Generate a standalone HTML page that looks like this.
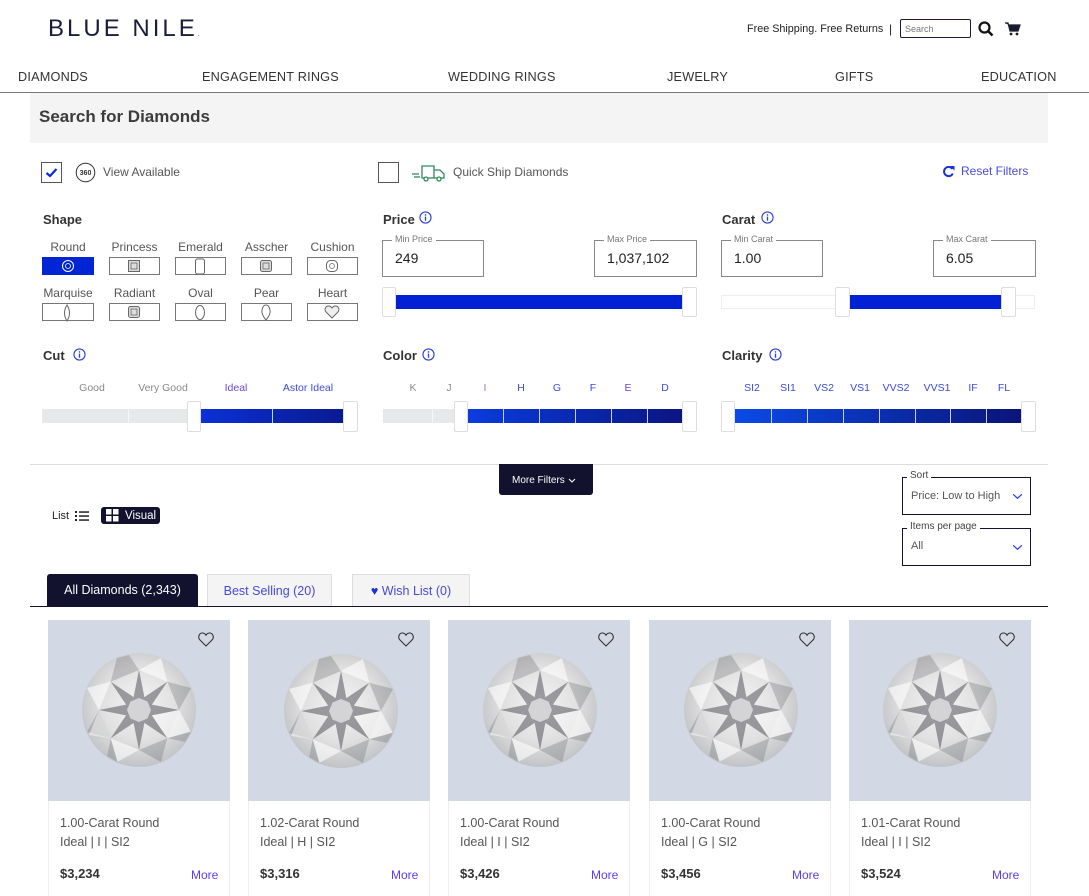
<!DOCTYPE html>
<html><head><meta charset="utf-8"><style>
html,body{margin:0;width:1089px;height:896px;overflow:hidden}
body{background:#fff;font-family:"Liberation Sans",sans-serif;position:relative}
.a{position:absolute;white-space:nowrap}
.nav{top:69px;line-height:16px;font-size:12.7px;color:#333;letter-spacing:.2px}
.lbl{font-size:13px;font-weight:bold;color:#333;line-height:16px}
.shl{font-size:12px;color:#555;line-height:14px;text-align:center}
.shb{border:1px solid #777;height:16px;box-sizing:content-box;background:#fff}
.inp{border:1px solid #888;width:100px;height:35px}
.leg{font-size:9px;color:#777;background:#fff;padding:0 3px;line-height:10px}
.val{font-size:14px;color:#222;line-height:16px}
.hd{width:13px;height:30px;border:1px solid #ddd;background:#fff;border-radius:2px;box-sizing:border-box}
.tk{font-size:10.5px;line-height:12px;text-align:center;width:60px;margin-left:-30px}
.dv{top:409px;width:1px;height:14px;background:#c9cde8}
.card{width:182px;height:276px;top:620px;overflow:hidden}
.img{position:absolute;left:0;top:0;width:182px;height:181px;background:#d2d9e5}
.bot{position:absolute;left:0;top:181px;width:180px;height:120px;border:1px solid #eee;border-top:none}
.t1{font-size:12.5px;color:#555;line-height:14px}
.pr{font-size:13px;font-weight:bold;color:#333;line-height:14px}
.more{font-size:12px;color:#5a3cf0;line-height:14px}
</style></head><body>

<svg width="0" height="0" style="position:absolute">
<defs>
<radialGradient id="dg" cx="50%" cy="45%" r="55%">
<stop offset="0" stop-color="#f4f4f4"/><stop offset=".6" stop-color="#e0e0e0"/><stop offset="1" stop-color="#c2c3c6"/>
</radialGradient>
<symbol id="dia" viewBox="-58 -58 116 116">
<circle r="57" fill="url(#dg)"/>
<g fill="#fff" opacity=".6">
<polygon points="0,-40 22,-52 28.3,-28.3"/>
<polygon points="0,-40 22,-52 28.3,-28.3" transform="rotate(90)"/>
<polygon points="0,-40 22,-52 28.3,-28.3" transform="rotate(180)"/>
<polygon points="0,-40 22,-52 28.3,-28.3" transform="rotate(270)"/>
</g>
<g fill="#6a6b70" opacity=".3">
<polygon points="28.3,-28.3 40,0 52,-22"/>
<polygon points="28.3,-28.3 40,0 52,-22" transform="rotate(90)"/>
<polygon points="28.3,-28.3 40,0 52,-22" transform="rotate(180)"/>
<polygon points="28.3,-28.3 40,0 52,-22" transform="rotate(270)"/>
<polygon points="0,-40 -10,-55 -22,-52"/>
<polygon points="0,-40 -10,-55 -22,-52" transform="rotate(135)"/>
<polygon points="0,-40 -10,-55 -22,-52" transform="rotate(225)"/>
</g>
<polygon fill="#55565c" opacity=".55" points="0,-40 5.4,-12.9 28.3,-28.3 12.9,-5.4 40,0 12.9,5.4 28.3,28.3 5.4,12.9 0,40 -5.4,12.9 -28.3,28.3 -12.9,5.4 -40,0 -12.9,-5.4 -28.3,-28.3 -5.4,-12.9"/>
<polygon fill="#d4d4d6" points="0,-12 8.5,-8.5 12,0 8.5,8.5 0,12 -8.5,8.5 -12,0 -8.5,-8.5"/>
<g fill="#fff" opacity=".45">
<polygon points="-40,0 -28.3,28.3 -50,25"/>
<polygon points="12.9,5.4 40,0 28.3,28.3"/>
</g>
</symbol>
<symbol id="heart" viewBox="0 0 16 15">
<path d="M8 14 L2 8 C-0.5 5.5 1 1 4.5 1 C6.3 1 7.3 2 8 3.2 C8.7 2 9.7 1 11.5 1 C15 1 16.5 5.5 14 8 Z" fill="none" stroke="#333" stroke-width="1.1"/>
</symbol>
<symbol id="info" viewBox="0 0 14 14">
<circle cx="7" cy="7" r="6" fill="none" stroke="#2b3fd6" stroke-width="1.2"/>
<circle cx="7" cy="4.2" r=".9" fill="#2b3fd6"/>
<rect x="6.3" y="6" width="1.4" height="4.5" fill="#2b3fd6"/>
</symbol>
<symbol id="chev" viewBox="0 0 12 8"><path d="M1 1.5 L6 6 L11 1.5" fill="none" stroke="#2b3fd6" stroke-width="1.4"/></symbol>
</defs>
</svg>

<!-- Header -->
<div class="a" style="left:48px;top:15px;font-size:24px;line-height:28px;letter-spacing:3px;color:#1c1d3b">BLUE NILE<span style="font-size:6px;letter-spacing:0">.</span></div>
<div class="a" style="left:747px;top:22px;font-size:10.8px;line-height:14px;color:#222">Free Shipping. Free Returns</div>
<div class="a" style="left:889px;top:22px;font-size:12px;line-height:14px;color:#222">|</div>
<div class="a" style="left:900px;top:19px;width:71px;height:19px;border:1px solid #1a1a3a;border-radius:2px;box-sizing:border-box"></div>
<div class="a" style="left:905px;top:24px;font-size:9px;line-height:10px;color:#777">Search</div>
<svg class="a" style="left:978px;top:21px" width="16" height="16" viewBox="0 0 16 16"><circle cx="6.5" cy="6.5" r="5" fill="none" stroke="#111" stroke-width="2.2"/><line x1="10" y1="10" x2="14.5" y2="14.5" stroke="#111" stroke-width="2.5"/></svg>
<svg class="a" style="left:1005px;top:22px" width="16" height="14" viewBox="0 0 16 14"><path d="M0 1 H3 L5 9 H13 L15 3 H4" fill="#1a1a2e" stroke="#1a1a2e" stroke-width="1.2"/><circle cx="6" cy="12" r="1.4" fill="#1a1a2e"/><circle cx="12" cy="12" r="1.4" fill="#1a1a2e"/></svg>

<div class="a nav" style="left:18px">DIAMONDS</div>
<div class="a nav" style="left:202px">ENGAGEMENT RINGS</div>
<div class="a nav" style="left:448px">WEDDING RINGS</div>
<div class="a nav" style="left:667px">JEWELRY</div>
<div class="a nav" style="left:835px">GIFTS</div>
<div class="a nav" style="left:981px">EDUCATION</div>
<div class="a" style="left:0;top:92px;width:1089px;height:1px;background:#777"></div>

<div class="a" style="left:30px;top:93px;width:1018px;height:50px;background:#f4f4f4"></div>
<div class="a" style="left:39px;top:107px;font-size:17px;line-height:20px;font-weight:bold;color:#3c3c3c">Search for Diamonds</div>

<!-- checkboxes -->
<div class="a" style="left:41px;top:162px;width:21px;height:21px;border:1px solid #555;box-sizing:border-box"></div>
<svg class="a" style="left:45px;top:167px" width="13" height="11" viewBox="0 0 13 11"><path d="M1.5 6 L5 9 L11.5 2" fill="none" stroke="#0a2ad6" stroke-width="2.2"/></svg>
<svg class="a" style="left:75px;top:162px" width="21" height="21" viewBox="0 0 21 21"><circle cx="10.5" cy="10.5" r="9.3" fill="none" stroke="#333" stroke-width="1"/><text x="10.5" y="13" font-size="7" font-weight="bold" text-anchor="middle" fill="#333" font-family="Liberation Sans">360</text></svg>
<div class="a" style="left:103px;top:165px;font-size:12px;line-height:14px;color:#555">View Available</div>

<div class="a" style="left:378px;top:162px;width:21px;height:21px;border:1px solid #555;box-sizing:border-box"></div>
<svg class="a" style="left:411px;top:163px" width="35" height="20" viewBox="0 0 35 20"><g fill="none" stroke="#2e8a5a" stroke-width="1.3"><line x1="1" y1="11" x2="8" y2="11"/><line x1="3" y1="14" x2="9" y2="14"/><path d="M11 3 H23 V15 H11 Z"/><path d="M23 7 H29 L33 11 V15 H23"/><circle cx="15" cy="16" r="2" fill="#fff"/><circle cx="28" cy="16" r="2" fill="#fff"/></g></svg>
<div class="a" style="left:453px;top:165px;font-size:12px;line-height:14px;color:#555">Quick Ship Diamonds</div>

<svg class="a" style="left:942px;top:165px" width="13" height="13" viewBox="0 0 13 13"><path d="M10.5 4 A4.6 4.6 0 1 0 10.8 8.5" fill="none" stroke="#1a30d8" stroke-width="2"/><polygon points="8,1 12.5,1 12.5,5.5" fill="#1a30d8"/></svg>
<div class="a" style="left:961px;top:164px;font-size:12px;line-height:14px;color:#4a4ad8">Reset Filters</div>

<!-- Shape -->
<div class="a lbl" style="left:43px;top:212px">Shape</div>
<div class="a shl" style="left:42px;top:240px;width:52px">Round</div>
<div class="a shl" style="left:109px;top:240px;width:51px">Princess</div>
<div class="a shl" style="left:175px;top:240px;width:51px">Emerald</div>
<div class="a shl" style="left:241px;top:240px;width:51px">Asscher</div>
<div class="a shl" style="left:307px;top:240px;width:51px">Cushion</div>
<div class="a shb" style="left:42px;top:257px;width:50px;background:#0025d4;border-color:#0025d4"></div>
<div class="a shb" style="left:109px;top:257px;width:49px"></div>
<div class="a shb" style="left:175px;top:257px;width:49px"></div>
<div class="a shb" style="left:241px;top:257px;width:49px"></div>
<div class="a shb" style="left:307px;top:257px;width:49px"></div>
<svg class="a" style="left:61px;top:259px" width="14" height="14" viewBox="0 0 14 14"><circle cx="7" cy="7" r="5.5" fill="none" stroke="#fff" stroke-width="1"/><circle cx="7" cy="7" r="2.5" fill="none" stroke="#fff" stroke-width=".8"/></svg>
<svg class="a" style="left:127px;top:259px" width="14" height="14" viewBox="0 0 14 14"><rect x="1.5" y="1.5" width="11" height="11" fill="#ddd" stroke="#666"/><rect x="4" y="4" width="6" height="6" fill="none" stroke="#666" stroke-width=".8"/></svg>
<svg class="a" style="left:194px;top:258px" width="12" height="17" viewBox="0 0 12 17"><rect x="1.5" y="1" width="9" height="15" rx="2" fill="none" stroke="#666"/></svg>
<svg class="a" style="left:259px;top:259px" width="14" height="14" viewBox="0 0 14 14"><rect x="1.5" y="1.5" width="11" height="11" rx="2" fill="#ddd" stroke="#666"/><rect x="4" y="4" width="6" height="6" fill="none" stroke="#666" stroke-width=".8"/></svg>
<svg class="a" style="left:325px;top:259px" width="14" height="14" viewBox="0 0 14 14"><rect x="1.5" y="1.5" width="11" height="11" rx="4" fill="none" stroke="#666"/><circle cx="7" cy="7" r="2.5" fill="none" stroke="#666" stroke-width=".7"/></svg>

<div class="a shl" style="left:42px;top:286px;width:52px">Marquise</div>
<div class="a shl" style="left:109px;top:286px;width:51px">Radiant</div>
<div class="a shl" style="left:175px;top:286px;width:51px">Oval</div>
<div class="a shl" style="left:241px;top:286px;width:51px">Pear</div>
<div class="a shl" style="left:307px;top:286px;width:51px">Heart</div>
<div class="a shb" style="left:42px;top:303px;width:50px"></div>
<div class="a shb" style="left:109px;top:303px;width:49px"></div>
<div class="a shb" style="left:175px;top:303px;width:49px"></div>
<div class="a shb" style="left:241px;top:303px;width:49px"></div>
<div class="a shb" style="left:307px;top:303px;width:49px"></div>
<svg class="a" style="left:62px;top:304px" width="10" height="18" viewBox="0 0 10 18"><path d="M5 1 Q10 9 5 17 Q0 9 5 1 Z" fill="none" stroke="#666"/></svg>
<svg class="a" style="left:127px;top:305px" width="14" height="14" viewBox="0 0 14 14"><rect x="1.5" y="1.5" width="11" height="11" rx="2" fill="#ddd" stroke="#666"/><rect x="4" y="4" width="6" height="6" fill="none" stroke="#666" stroke-width=".8"/></svg>
<svg class="a" style="left:194px;top:304px" width="12" height="17" viewBox="0 0 12 17"><ellipse cx="6" cy="8.5" rx="4.5" ry="7" fill="none" stroke="#666"/></svg>
<svg class="a" style="left:260px;top:304px" width="12" height="17" viewBox="0 0 12 17"><path d="M6 16 Q1 10 2 6 Q3 1 6 1 Q9 1 10 6 Q11 10 6 16 Z" fill="none" stroke="#666"/></svg>
<svg class="a" style="left:324px;top:305px" width="16" height="14" viewBox="0 0 16 14"><path d="M8 13 L2 7 C0 4.5 1.5 1 4.5 1 C6.3 1 7.3 2 8 3 C8.7 2 9.7 1 11.5 1 C14.5 1 16 4.5 14 7 Z" fill="#eee" stroke="#666"/></svg>

<!-- Price -->
<div class="a lbl" style="left:383px;top:212px">Price</div>
<svg class="a" style="left:419px;top:211px" width="13" height="13"><use href="#info"/></svg>
<div class="a inp" style="left:382px;top:240px"></div>
<div class="a leg" style="left:392px;top:234px">Min Price</div>
<div class="a val" style="left:395px;top:250px">249</div>
<div class="a inp" style="left:594px;top:240px;width:101px"></div>
<div class="a leg" style="left:604px;top:234px">Max Price</div>
<div class="a val" style="left:607px;top:250px">1,037,102</div>
<div class="a" style="left:396px;top:295px;width:287px;height:14px;background:#0022d4"></div>
<div class="a hd" style="left:382px;top:287px;width:14px"></div>
<div class="a hd" style="left:682px;top:287px;width:15px"></div>

<!-- Carat -->
<div class="a lbl" style="left:722px;top:212px">Carat</div>
<svg class="a" style="left:761px;top:211px" width="13" height="13"><use href="#info"/></svg>
<div class="a inp" style="left:721px;top:240px"></div>
<div class="a leg" style="left:731px;top:234px">Min Carat</div>
<div class="a val" style="left:734px;top:250px">1.00</div>
<div class="a inp" style="left:933px;top:240px;width:101px"></div>
<div class="a leg" style="left:943px;top:234px">Max Carat</div>
<div class="a val" style="left:946px;top:250px">6.05</div>
<div class="a" style="left:721px;top:295px;width:314px;height:14px;border:1px solid #eee;box-sizing:border-box"></div>
<div class="a" style="left:850px;top:295px;width:152px;height:14px;background:#0022d4"></div>
<div class="a hd" style="left:835px;top:287px;width:15px"></div>
<div class="a hd" style="left:1001px;top:287px;width:15px"></div>

<!-- Cut -->
<div class="a lbl" style="left:43px;top:348px">Cut</div>
<svg class="a" style="left:73px;top:348px" width="13" height="13"><use href="#info"/></svg>
<div class="a tk" style="left:92px;top:382px;color:#888">Good</div>
<div class="a tk" style="left:163px;top:382px;color:#888">Very Good</div>
<div class="a tk" style="left:236px;top:382px;color:#6a4ad8">Ideal</div>
<div class="a tk" style="left:308px;top:382px;color:#3c4ad8">Astor Ideal</div>
<div class="a" style="left:42px;top:409px;width:146px;height:14px;background:#e7e8e9"></div>
<div class="a" style="left:128px;top:409px;width:1px;height:14px;background:#f6f6f6"></div>
<div class="a" style="left:201px;top:409px;width:142px;height:14px;background:linear-gradient(90deg,#0a30d8,#0a1a90)"></div>
<div class="a dv" style="left:272px"></div>
<div class="a hd" style="left:187px;top:401px;width:14px;height:31px"></div>
<div class="a hd" style="left:343px;top:401px;width:15px;height:31px"></div>

<!-- Color -->
<div class="a lbl" style="left:383px;top:348px">Color</div>
<svg class="a" style="left:422px;top:348px" width="13" height="13"><use href="#info"/></svg>
<div class="a tk" style="left:413px;top:382px;color:#888">K</div>
<div class="a tk" style="left:449px;top:382px;color:#888">J</div>
<div class="a tk" style="left:485px;top:382px;color:#a070d0">I</div>
<div class="a tk" style="left:521px;top:382px;color:#3c4ad8">H</div>
<div class="a tk" style="left:557px;top:382px;color:#3c4ad8">G</div>
<div class="a tk" style="left:593px;top:382px;color:#3c4ad8">F</div>
<div class="a tk" style="left:628px;top:382px;color:#6a4ad8">E</div>
<div class="a tk" style="left:665px;top:382px;color:#3c4ad8">D</div>
<div class="a" style="left:383px;top:409px;width:72px;height:14px;background:#e7e8e9"></div>
<div class="a" style="left:432px;top:409px;width:1px;height:14px;background:#f6f6f6"></div>
<div class="a" style="left:468px;top:409px;width:215px;height:14px;background:linear-gradient(90deg,#0a3ce0,#0a1580)"></div>
<div class="a dv" style="left:503px"></div>
<div class="a dv" style="left:539px"></div>
<div class="a dv" style="left:575px"></div>
<div class="a dv" style="left:611px"></div>
<div class="a dv" style="left:647px"></div>
<div class="a hd" style="left:454px;top:401px;width:14px;height:31px"></div>
<div class="a hd" style="left:682px;top:401px;width:15px;height:31px"></div>

<!-- Clarity -->
<div class="a lbl" style="left:722px;top:348px">Clarity</div>
<svg class="a" style="left:769px;top:348px" width="13" height="13"><use href="#info"/></svg>
<div class="a tk" style="left:752px;top:382px;color:#3c4ad8">SI2</div>
<div class="a tk" style="left:788px;top:382px;color:#3c4ad8">SI1</div>
<div class="a tk" style="left:824px;top:382px;color:#3c4ad8">VS2</div>
<div class="a tk" style="left:860px;top:382px;color:#3c4ad8">VS1</div>
<div class="a tk" style="left:896px;top:382px;color:#3c4ad8">VVS2</div>
<div class="a tk" style="left:937px;top:382px;color:#3c4ad8">VVS1</div>
<div class="a tk" style="left:973px;top:382px;color:#3c4ad8">IF</div>
<div class="a tk" style="left:1004px;top:382px;color:#3c4ad8">FL</div>
<div class="a" style="left:735px;top:409px;width:287px;height:14px;background:linear-gradient(90deg,#0a4ae8,#0a1478)"></div>
<div class="a dv" style="left:771px"></div>
<div class="a dv" style="left:807px"></div>
<div class="a dv" style="left:843px"></div>
<div class="a dv" style="left:879px"></div>
<div class="a dv" style="left:915px"></div>
<div class="a dv" style="left:950px"></div>
<div class="a dv" style="left:986px"></div>
<div class="a hd" style="left:721px;top:401px;width:14px;height:31px"></div>
<div class="a hd" style="left:1021px;top:401px;width:15px;height:31px"></div>

<!-- divider & more filters -->
<div class="a" style="left:30px;top:464px;width:1018px;height:1px;background:#ddd"></div>
<div class="a" style="left:499px;top:464px;width:94px;height:31px;background:#12112e;border-radius:0 0 3px 3px"></div>
<div class="a" style="left:512px;top:475px;font-size:10px;line-height:12px;color:#fff">More Filters</div>
<svg class="a" style="left:568px;top:478px" width="8" height="6" viewBox="0 0 8 6"><path d="M1 1 L4 4 L7 1" fill="none" stroke="#fff" stroke-width="1"/></svg>

<!-- List / Visual -->
<div class="a" style="left:52px;top:509px;font-size:11px;line-height:14px;color:#222">List</div>
<svg class="a" style="left:74px;top:510px" width="16" height="12" viewBox="0 0 16 12"><g fill="#222"><rect x="1" y="1" width="2" height="2"/><rect x="1" y="5" width="2" height="2"/><rect x="1" y="9" width="2" height="2"/><rect x="5" y="1.3" width="10" height="1.5"/><rect x="5" y="5.3" width="10" height="1.5"/><rect x="5" y="9.3" width="10" height="1.5"/></g></svg>
<div class="a" style="left:101px;top:507px;width:59px;height:17px;background:#12112e;border-radius:3px"></div>
<svg class="a" style="left:106px;top:509px" width="13" height="13" viewBox="0 0 13 13"><g fill="#fff"><rect x="0" y="0" width="5.5" height="5.5"/><rect x="7" y="0" width="5.5" height="5.5"/><rect x="0" y="7" width="5.5" height="5.5"/><rect x="7" y="7" width="5.5" height="5.5"/></g></svg>
<div class="a" style="left:125px;top:509px;font-size:11.5px;line-height:14px;color:#fff">Visual</div>

<!-- Sort -->
<div class="a" style="left:902px;top:477px;width:129px;height:38px;border:1px solid #12112e;box-sizing:border-box"></div>
<div class="a" style="left:907px;top:470px;font-size:10px;line-height:12px;color:#444;background:#fff;padding:0 3px">Sort</div>
<div class="a" style="left:911px;top:489px;font-size:11px;line-height:14px;color:#555">Price: Low to High</div>
<svg class="a" style="left:1012px;top:493px" width="11" height="7"><use href="#chev"/></svg>
<div class="a" style="left:902px;top:528px;width:129px;height:38px;border:1px solid #12112e;box-sizing:border-box"></div>
<div class="a" style="left:907px;top:521px;font-size:10px;line-height:12px;color:#444;background:#fff;padding:0 3px">Items per page</div>
<div class="a" style="left:911px;top:539px;font-size:11px;line-height:14px;color:#555">All</div>
<svg class="a" style="left:1012px;top:544px" width="11" height="7"><use href="#chev"/></svg>

<!-- Tabs -->
<div class="a" style="left:47px;top:574px;width:151px;height:32px;background:#12112e;border-radius:3px 3px 0 0;color:#fff;font-size:12.5px;line-height:32px;text-align:center">All Diamonds (2,343)</div>
<div class="a" style="left:207px;top:574px;width:125px;height:32px;background:#f4f4f4;border:1px solid #ddd;border-bottom:none;box-sizing:border-box;color:#4848d8;font-size:12.5px;line-height:32px;text-align:center">Best Selling (20)</div>
<div class="a" style="left:352px;top:574px;width:118px;height:32px;background:#f4f4f4;border:1px solid #ddd;border-bottom:none;box-sizing:border-box;color:#4848d8;font-size:12.5px;line-height:32px;text-align:center"><span style="color:#1a30d8">&#9829;</span> Wish List (0)</div>
<div class="a" style="left:30px;top:606px;width:1018px;height:1px;background:#12112e"></div>

<!-- Cards -->
<div class="a card" style="left:48px"><div class="img"></div><svg class="a" style="left:33px;top:32px" width="116" height="116"><use href="#dia"/></svg><svg class="a" style="left:150px;top:12px" width="16" height="15"><use href="#heart"/></svg><div class="bot"></div>
<div class="a t1" style="left:12px;top:196px">1.00-Carat Round</div><div class="a t1" style="left:12px;top:215px">Ideal | I | SI2</div><div class="a pr" style="left:12px;top:247px">$3,234</div><div class="a more" style="left:143px;top:248px">More</div></div>

<div class="a card" style="left:248px"><div class="img"></div><svg class="a" style="left:35px;top:33px" width="116" height="116"><use href="#dia"/></svg><svg class="a" style="left:150px;top:12px" width="16" height="15"><use href="#heart"/></svg><div class="bot"></div>
<div class="a t1" style="left:12px;top:196px">1.02-Carat Round</div><div class="a t1" style="left:12px;top:215px">Ideal | H | SI2</div><div class="a pr" style="left:12px;top:247px">$3,316</div><div class="a more" style="left:143px;top:248px">More</div></div>

<div class="a card" style="left:448px"><div class="img"></div><svg class="a" style="left:34px;top:32px" width="116" height="116"><use href="#dia"/></svg><svg class="a" style="left:150px;top:12px" width="16" height="15"><use href="#heart"/></svg><div class="bot"></div>
<div class="a t1" style="left:12px;top:196px">1.00-Carat Round</div><div class="a t1" style="left:12px;top:215px">Ideal | I | SI2</div><div class="a pr" style="left:12px;top:247px">$3,426</div><div class="a more" style="left:143px;top:248px">More</div></div>

<div class="a card" style="left:649px"><div class="img"></div><svg class="a" style="left:34px;top:32px" width="116" height="116"><use href="#dia"/></svg><svg class="a" style="left:150px;top:12px" width="16" height="15"><use href="#heart"/></svg><div class="bot"></div>
<div class="a t1" style="left:12px;top:196px">1.00-Carat Round</div><div class="a t1" style="left:12px;top:215px">Ideal | G | SI2</div><div class="a pr" style="left:12px;top:247px">$3,456</div><div class="a more" style="left:143px;top:248px">More</div></div>

<div class="a card" style="left:849px"><div class="img"></div><svg class="a" style="left:33px;top:32px" width="116" height="116"><use href="#dia"/></svg><svg class="a" style="left:150px;top:12px" width="16" height="15"><use href="#heart"/></svg><div class="bot"></div>
<div class="a t1" style="left:12px;top:196px">1.01-Carat Round</div><div class="a t1" style="left:12px;top:215px">Ideal | I | SI2</div><div class="a pr" style="left:12px;top:247px">$3,524</div><div class="a more" style="left:143px;top:248px">More</div></div>

</body></html>
